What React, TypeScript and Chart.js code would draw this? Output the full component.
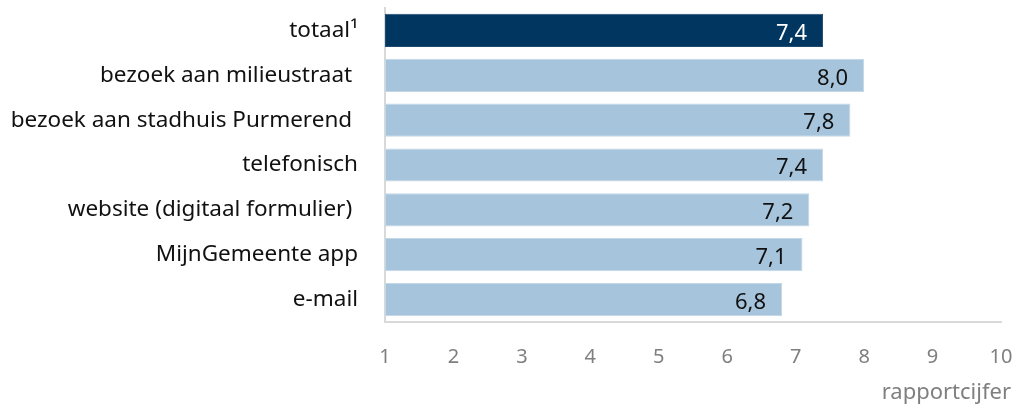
import React, { useEffect, useRef } from "react";
import { Chart, registerables } from "chart.js";

Chart.register(...registerables);

const categories = [
  "totaal¹",
  "bezoek aan milieustraat ",
  "bezoek aan stadhuis Purmerend ",
  "telefonisch",
  "website (digitaal formulier) ",
  "MijnGemeente app",
  "e-mail",
];
const values = [7.4, 8.0, 7.8, 7.4, 7.2, 7.1, 6.8];
const xTicks = [1, 2, 3, 4, 5, 6, 7, 8, 9, 10];
const axisTitle = "rapportcijfer";

const DARK = "#003660";
const LIGHT = "#a6c4dc";
const FONT = "'Noto Sans', sans-serif";

const valueLabels = {
  id: "valueLabels",
  afterDatasetsDraw(chart: any) {
    const ctx = chart.ctx;
    const meta = chart.getDatasetMeta(0);
    ctx.save();
    ctx.font = `22px ${FONT}`;
    ctx.textAlign = "right";
    ctx.textBaseline = "middle";
    meta.data.forEach((bar: any, i: number) => {
      ctx.fillStyle = i === 0 ? "#ffffff" : "#111111";
      const txt = values[i].toFixed(1).replace(".", ",");
      ctx.fillText(txt, bar.x - 16, bar.y + 3);
    });
    ctx.restore();
  },
};

const axisTitlePlugin = {
  id: "axisTitlePlugin",
  afterDraw(chart: any) {
    const ctx = chart.ctx;
    ctx.save();
    ctx.font = `22px ${FONT}`;
    ctx.fillStyle = "#7f7f7f";
    ctx.textAlign = "right";
    ctx.textBaseline = "middle";
    ctx.fillText(axisTitle, 1011, 393);
    ctx.restore();
  },
};

export default function App() {
  const ref = useRef<HTMLCanvasElement>(null);
  useEffect(() => {
    document.body.style.margin = "0";
    const chart = new Chart(ref.current!, {
      type: "bar",
      data: {
        labels: categories,
        datasets: [
          {
            data: values,
            base: 1,
            backgroundColor: values.map((_, i) => (i === 0 ? DARK : LIGHT)),
            borderColor: values.map((_, i) => (i === 0 ? "#1f4b70" : "#c3d7e7")),
            borderWidth: 1,
            borderSkipped: false,
            categoryPercentage: 0.74,
            barPercentage: 1,
          } as any,
        ],
      },
      options: {
        indexAxis: "y",
        animation: false,
        responsive: false,
        maintainAspectRatio: false,
        layout: { padding: { top: 8, right: 18, left: 0, bottom: 0 } },
        plugins: {
          legend: { display: false },
          tooltip: { enabled: false },
        },
        scales: {
          x: {
            min: 1,
            max: 10,
            afterBuildTicks: (s: any) => {
              s.ticks = xTicks.map((v) => ({ value: v }));
            },
            afterFit: (s: any) => {
              s.height = 86;
              s.paddingLeft = 0;
              s.paddingRight = 0;
            },
            grid: { display: false, drawTicks: false },
            border: { display: true, color: "#d9d9d9", width: 2 },
            ticks: {
              color: "#7f7f7f",
              font: { family: FONT, size: 20 },
              padding: 23,
            },
          },
          y: {
            afterFit: (s: any) => {
              s.width = 385;
              s.paddingTop = 0;
              s.paddingBottom = 0;
            },
            grid: { display: false, drawTicks: false },
            border: { display: true, color: "#d9d9d9", width: 2 },
            ticks: {
              color: "#111111",
              font: { family: FONT, size: 22.5 },
              padding: 27,
              autoSkip: false,
            },
          },
        },
      },
      plugins: [valueLabels, axisTitlePlugin],
    });
    return () => chart.destroy();
  }, []);
  return (
    <div style={{ width: 1019, height: 408 }}>
      <canvas ref={ref} width={1019} height={408} style={{ display: "block" }} />
    </div>
  );
}
